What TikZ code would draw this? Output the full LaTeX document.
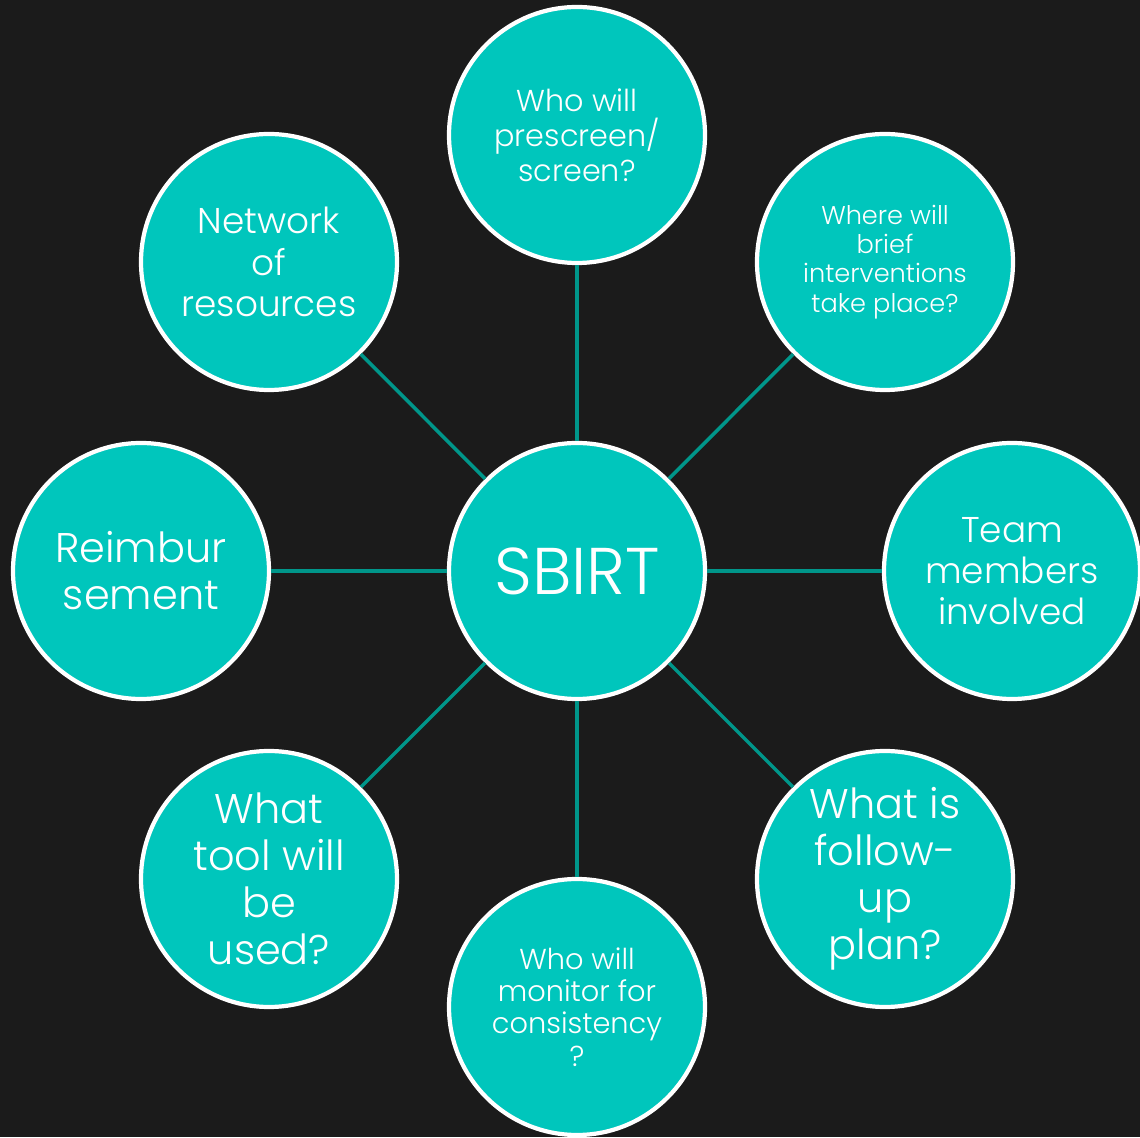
\documentclass[tikz,border=0pt]{standalone}
\usepackage{fontspec}
\setmainfont{Poppins}[UprightFont=* Light]
\usetikzlibrary{positioning}
\definecolor{bgdark}{HTML}{1B1B1B}
\definecolor{tealfill}{HTML}{00C6BC}
\definecolor{tealline}{HTML}{00968A}
\tikzset{
  bubble/.style={circle,draw=white,line width=1.2pt,fill=tealfill,
    minimum size=2.56cm,inner sep=0pt,align=center,text=white},
  spoke/.style={draw=tealline,line width=1pt},
  fs/.style 2 args={font=\fontsize{#1}{#2}\selectfont}
}
\begin{document}
\begin{tikzpicture}
\fill[bgdark] (0,0) rectangle (11.4,11.37);
\useasboundingbox (0,0) rectangle (11.4,11.37);
\node[bubble,fs={18.8}{24}] (sbirt) at (5.77,5.66) {SBIRT};
\node[bubble,fs={8.6}{10}] (screen) at (5.77,10.02) {Who will\\prescreen/\\screen?};
\node[bubble,fs={7.3}{8.3}] (brief) at (8.85,8.75) {Where will\\brief\\interventions\\take place?};
\node[bubble,fs={10.2}{11.7}] (team) at (10.12,5.66) {Team\\members\\involved};
\node[bubble,fs={11.8}{13.4}] (follow) at (8.85,2.58) {What is\\follow-\\up\\plan?};
\node[bubble,fs={8.2}{9.2}] (monitor) at (5.77,1.30) {Who will\\monitor for\\consistency\\?};
\node[bubble,fs={11.8}{13.4}] (tool) at (2.69,2.58) {What\\tool will\\be\\used?};
\node[bubble,fs={11.8}{13.4}] (reimb) at (1.41,5.66) {Reimbur\\sement};
\node[bubble,fs={10.2}{11.7}] (network) at (2.69,8.75) {Network\\of\\resources};
% spokes
\foreach \n in {screen,brief,team,follow,monitor,tool,reimb,network}
  \draw[spoke] (sbirt) -- (\n);
\end{tikzpicture}
\end{document}
